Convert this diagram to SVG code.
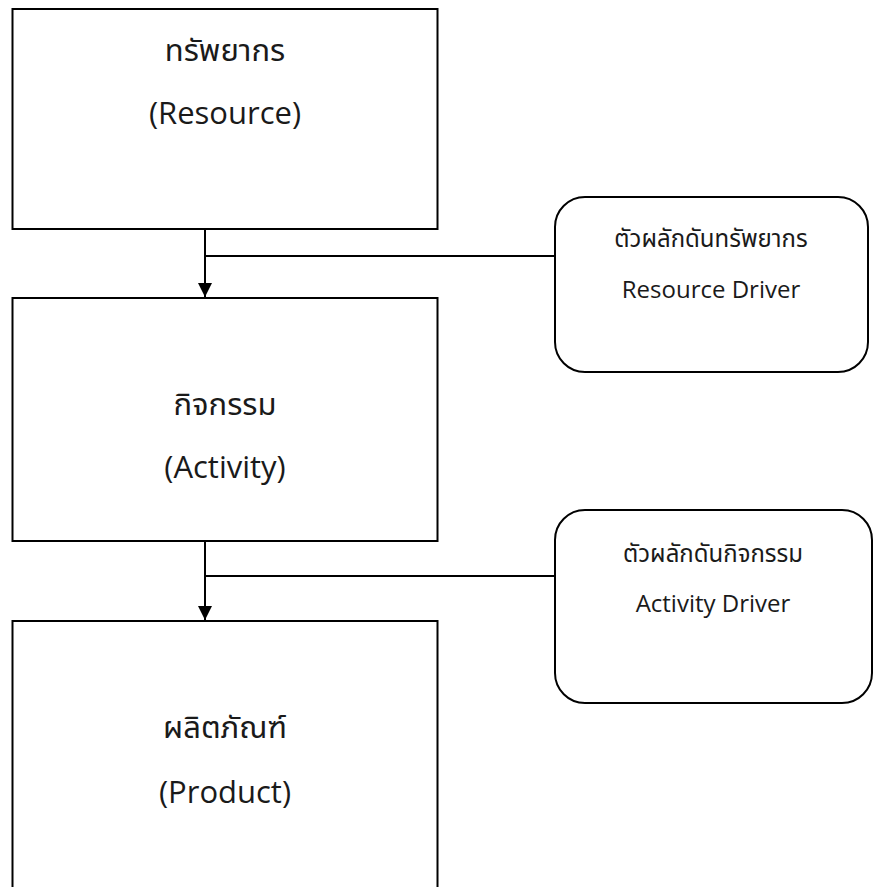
<svg xmlns="http://www.w3.org/2000/svg" width="874" height="887" viewBox="0 0 874 887">
<style>
.box{fill:#fff;stroke:#000;stroke-width:2}
.rbox{fill:#fff;stroke:#000;stroke-width:2}
.ln{fill:none;stroke:#000;stroke-width:2}
.t{font-family:"Open Sans","Noto Sans Thai","Noto Sans",sans-serif;fill:#1a1a1a;text-anchor:middle}
.big{font-size:31px}
.small{font-size:24px}
</style>
<defs>
<marker id="arr" viewBox="0 0 14 14" refX="14" refY="7" markerWidth="14" markerHeight="14" markerUnits="userSpaceOnUse" orient="auto">
<path d="M0,0 L14,7 L0,14 Z" fill="#000"/>
</marker>
</defs>
<rect width="874" height="887" fill="#fff"/>
<g id="connectors">
<line class="ln" x1="205" y1="229" x2="205" y2="297" marker-end="url(#arr)"/>
<line class="ln" x1="205" y1="256" x2="555" y2="256"/>
<line class="ln" x1="205" y1="541" x2="205" y2="620" marker-end="url(#arr)"/>
<line class="ln" x1="205" y1="576" x2="555" y2="576"/>
</g>
<g id="resource">
<rect class="box" x="12.5" y="9" width="425" height="220"/>
<text class="t big" x="225" y="61">ทรัพยากร</text>
<text class="t big" x="225" y="124">(Resource)</text>
</g>
<g id="activity">
<rect class="box" x="12.5" y="298" width="425" height="243"/>
<text class="t big" x="225" y="415">กิจกรรม</text>
<text class="t big" x="225" y="478">(Activity)</text>
</g>
<g id="product">
<rect class="box" x="12.5" y="621" width="425" height="300"/>
<text class="t big" x="225" y="738">ผลิตภัณฑ์</text>
<text class="t big" x="225" y="803">(Product)</text>
</g>
<g id="resource-driver">
<rect class="rbox" x="555" y="197" width="313" height="175" rx="30" ry="30"/>
<text class="t small" x="711" y="247">ตัวผลักดันทรัพยากร</text>
<text class="t small" x="711" y="298">Resource Driver</text>
</g>
<g id="activity-driver">
<rect class="rbox" x="555" y="510" width="317" height="193" rx="30" ry="30"/>
<text class="t small" x="713" y="562">ตัวผลักดันกิจกรรม</text>
<text class="t small" x="713" y="612">Activity Driver</text>
</g>
</svg>
